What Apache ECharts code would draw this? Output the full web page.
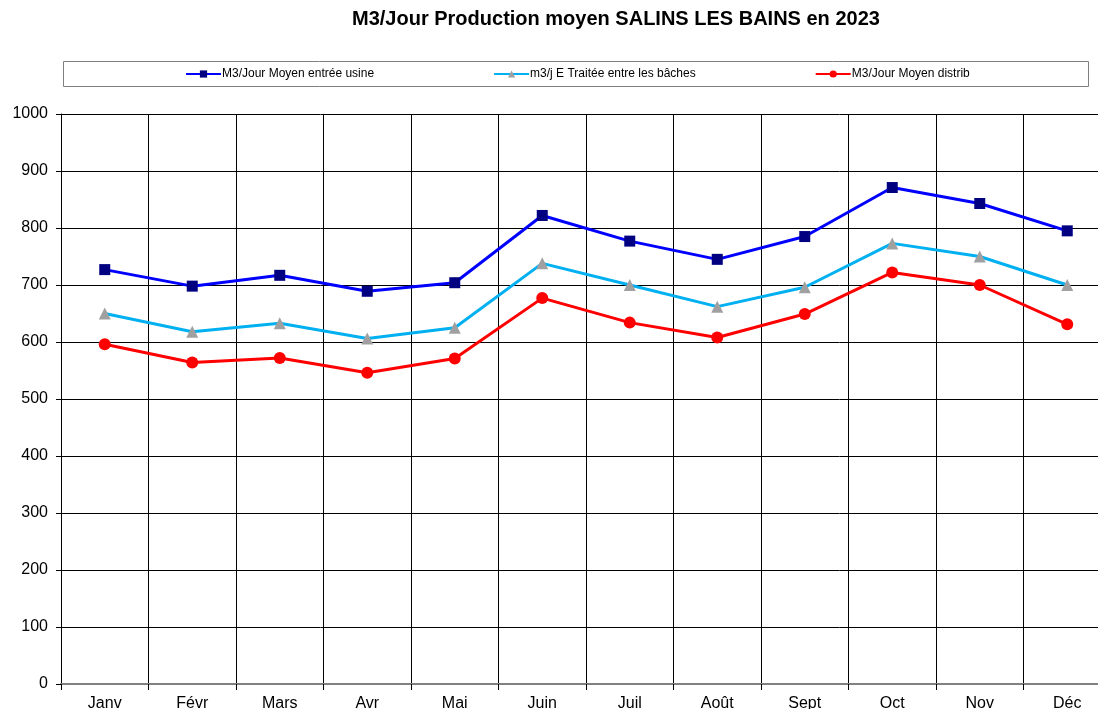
<!DOCTYPE html>
<html>
<head>
<meta charset="utf-8">
<script src="https://cdn.jsdelivr.net/npm/echarts@6/dist/echarts.min.js"></script>
<style>
  html, body { margin: 0; padding: 0; background: #fff; }
  #chart { width: 1098px; height: 709px; }
</style>
</head>
<body>
<div id="chart"></div>
<script>
    // données
    var mois = ['Janv', 'Févr', 'Mars', 'Avr', 'Mai', 'Juin', 'Juil', 'Août', 'Sept', 'Oct', 'Nov', 'Déc'];
    var entreeUsine = [727, 698, 717, 689, 704, 822, 777, 745, 785, 871, 843, 795];
    var traiteeBaches = [650, 618, 633, 606, 625, 738, 700, 662, 696, 773, 750, 700];
    var distrib = [596, 564, 572, 546, 571, 677, 634, 608, 649, 722, 700, 631];
    var yTicks = [0, 100, 200, 300, 400, 500, 600, 700, 800, 900, 1000];

    var mychart = echarts.init(document.getElementById('chart'));

    mychart.setOption({
        animation: false,
        textStyle: { fontFamily: 'Liberation Sans, Arial, sans-serif' },
        title: {
            text: 'M3/Jour Production moyen SALINS LES BAINS en 2023',
            left: 352,
            top: 9,
            padding: 0,
            textStyle: { fontSize: 20, fontWeight: 'bold', color: '#000' }
        },
        graphic: [{
            type: 'rect',
            shape: { x: 63.5, y: 61.5, width: 1025, height: 25 },
            style: { fill: '#fff', stroke: '#808080', lineWidth: 1 },
            z: -1
        }],
        legend: {
            left: 185,
            top: 68,
            padding: 0,
            itemGap: 119,
            itemWidth: 35,
            itemHeight: 9,
            textStyle: { fontSize: 12, color: '#000', padding: [0, 0, 0, -4] },
            data: ['M3/Jour Moyen entrée usine', 'm3/j E Traitée entre les bâches', 'M3/Jour Moyen distrib']
        },
        grid: {
            left: 61,
            top: 114,
            width: 1050,
            height: 570,
            containLabel: false,
            outerBoundsMode: 'none'
        },
        xAxis: {
            type: 'category',
            data: mois,
            boundaryGap: true,
            axisLine: { lineStyle: { color: '#808080', width: 2 } },
            axisTick: { show: true, length: 6, lineStyle: { color: '#000' } },
            axisLabel: { fontSize: 16, color: '#000', margin: 12 },
            splitLine: { show: true, lineStyle: { color: '#000', width: 1 } }
        },
        yAxis: {
            type: 'value',
            min: yTicks[0],
            max: yTicks[yTicks.length - 1],
            interval: 100,
            axisLine: { show: true, lineStyle: { color: '#000' } },
            axisTick: { show: true, length: 5, lineStyle: { color: '#000' } },
            axisLabel: { fontSize: 16, color: '#000', margin: 13, formatter: function (v) { return String(v); } },
            splitLine: { show: true, lineStyle: { color: '#000', width: 1 } }
        },
        series: [
            {
                name: 'M3/Jour Moyen entrée usine',
                type: 'line',
                data: entreeUsine,
                symbol: 'rect',
                symbolSize: 11,
                lineStyle: { color: '#0000FF', width: 3 },
                itemStyle: { color: '#000080', borderWidth: 0 }
            },
            {
                name: 'm3/j E Traitée entre les bâches',
                type: 'line',
                data: traiteeBaches,
                symbol: 'triangle',
                symbolSize: 12,
                lineStyle: { color: '#00B0F0', width: 3 },
                itemStyle: { color: '#A0A0A0', borderWidth: 0 }
            },
            {
                name: 'M3/Jour Moyen distrib',
                type: 'line',
                data: distrib,
                symbol: 'circle',
                symbolSize: 12,
                lineStyle: { color: '#FF0000', width: 3 },
                itemStyle: { color: '#FF0000', borderWidth: 0 }
            }
        ]
    });
</script>
</body>
</html>
